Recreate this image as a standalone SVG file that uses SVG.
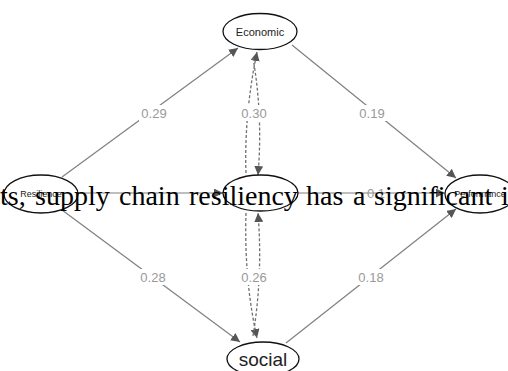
<svg xmlns="http://www.w3.org/2000/svg" width="508" height="371" viewBox="0 0 508 371">
<style>
.node{fill:#fff;stroke:#111;stroke-width:1.3}
.edge{fill:none;stroke:#808080;stroke-width:1.2}
.dash{fill:none;stroke:#707070;stroke-width:1.3;stroke-dasharray:3 2}
.lbl{font-family:"Liberation Sans",Arial,sans-serif;font-size:13px;fill:#999;text-anchor:middle}
.lblbg{fill:#fff}
.nt{font-family:"Liberation Sans",Arial,sans-serif;fill:#222;text-anchor:middle}
.over{font-family:"Liberation Serif","Times New Roman",serif;font-size:28px;fill:#000}
</style>
<defs>
<marker id="ah" viewBox="0 0 10 10" refX="10" refY="5" markerWidth="9" markerHeight="9" markerUnits="userSpaceOnUse" orient="auto">
<path d="M0,0 L10,5 L0,10 z" fill="#555"/>
</marker>
</defs>
<rect width="508" height="371" fill="#fff"/>
<g id="connectors">
<line class="edge" x1="62" y1="177" x2="238" y2="48" marker-end="url(#ah)"/>
<line class="edge" x1="292" y1="45" x2="456" y2="178" marker-end="url(#ah)"/>
<line class="edge" x1="62" y1="210" x2="240" y2="342" marker-end="url(#ah)"/>
<line class="edge" x1="286" y1="343" x2="456" y2="209" marker-end="url(#ah)"/>
<line class="edge" x1="78" y1="193" x2="223" y2="193" stroke="#444" marker-end="url(#ah)"/>
<line class="edge" x1="298" y1="193" x2="445" y2="193" stroke="#444" marker-end="url(#ah)"/>
<path class="dash" d="M246,173 Q244,115 257,52" marker-end="url(#ah)"/>
<path class="dash" d="M253,58 Q263,115 258,175" marker-end="url(#ah)"/>
<path class="dash" d="M246,213 Q244,280 257,338" marker-end="url(#ah)"/>
<path class="dash" d="M253,336 Q263,275 258,213" marker-end="url(#ah)"/>
<rect class="lblbg" x="139" y="105" width="30" height="16"/>
<text class="lbl" x="154" y="118">0.29</text>
<rect class="lblbg" x="239" y="105" width="30" height="16"/>
<text class="lbl" x="254" y="118">0.30</text>
<rect class="lblbg" x="357" y="105" width="30" height="16"/>
<text class="lbl" x="372" y="118">0.19</text>
<rect class="lblbg" x="138" y="269" width="30" height="16"/>
<text class="lbl" x="153" y="282">0.28</text>
<rect class="lblbg" x="239" y="269" width="30" height="16"/>
<text class="lbl" x="254" y="282">0.26</text>
<rect class="lblbg" x="356" y="269" width="30" height="16"/>
<text class="lbl" x="371" y="282">0.18</text>
<text class="lbl" x="376" y="198">0.1</text>
</g>
<g id="economic">
<ellipse class="node" cx="260" cy="31.5" rx="37" ry="18"/>
<text class="nt" x="260" y="35.5" font-size="11">Economic</text>
</g>
<g id="resilience">
<ellipse class="node" cx="41" cy="194" rx="37" ry="19"/>
<text class="nt" x="41" y="197" font-size="9" fill="#555">Resilience</text>
</g>
<g id="center">
<ellipse class="node" cx="260.5" cy="193" rx="37.5" ry="18"/>
</g>
<g id="performance">
<ellipse class="node" cx="480" cy="194" rx="35" ry="19"/>
<text class="nt" x="480" y="197" font-size="9" fill="#555">Performance</text>
</g>
<g id="social">
<ellipse class="node" cx="263" cy="359" rx="36" ry="17"/>
<text class="nt" x="263" y="365.5" font-size="19">social</text>
</g>
<text class="over" y="205"><tspan x="0">ts,</tspan><tspan x="35">supply</tspan><tspan x="119">chain</tspan><tspan x="189">resiliency</tspan><tspan x="306">has</tspan><tspan x="353">a</tspan><tspan x="374">significant</tspan><tspan x="501">i</tspan></text>
</svg>
